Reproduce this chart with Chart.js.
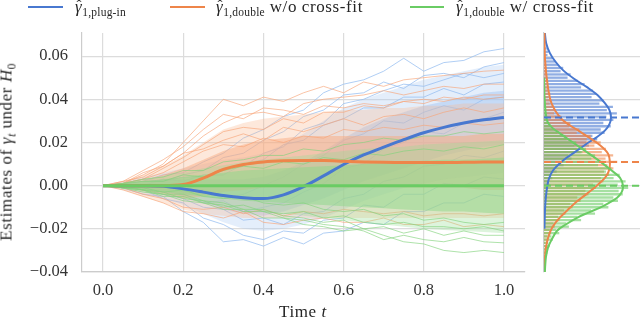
<!DOCTYPE html>
<html>
<head>
<meta charset="utf-8">
<script src="https://cdn.jsdelivr.net/npm/chart.js@4.4.1/dist/chart.umd.min.js"></script>
<style>
  body { margin: 0; background: #fff; }
  #wrap { position: relative; width: 640px; height: 323px; overflow: hidden;
          font-family: "Liberation Serif", serif; color: #262626; }
  #main { position: absolute; left: 0; top: 0; }
  #side { position: absolute; left: 535px; top: 0; }
  .leg-line { position: absolute; top: 6px; height: 2px; width: 35px; }
  .leg-text { position: absolute; top: -3px; font-size: 17px; letter-spacing: 0.6px;
              white-space: nowrap; line-height: 20px; }
  .leg-text sub, .lab sub { font-size: 11.5px; vertical-align: -4px; letter-spacing: 0.2px; }
  .g { position: relative; font-style: italic; }
  .g .hat { position: absolute; left: 1.5px; top: 1px; font-style: normal; font-size: 15px; line-height: 15px; }
  .lab { position: absolute; font-size: 17px; letter-spacing: 0.6px; white-space: nowrap; line-height: 20px; }
  #ylab { left: 9px; top: 152px; transform: translate(-50%, -50%) rotate(-90deg); }
  #xlab { left: 303px; top: 312px; transform: translate(-50%, -50%); }
</style>
</head>
<body>
<div id="wrap">
  <canvas id="main" width="535" height="323"></canvas>
  <canvas id="side" width="105" height="323"></canvas>

  <div class="leg-line" style="left:28px; background:#4878d0"></div>
  <span class="leg-text" style="left:75px"><span class="g">γ<span class="hat">ˆ</span></span><sub>1,plug-in</sub></span>
  <div class="leg-line" style="left:170px; background:#ee854a"></div>
  <span class="leg-text" style="left:216px"><span class="g">γ<span class="hat">ˆ</span></span><sub>1,double</sub> w/o cross-fit</span>
  <div class="leg-line" style="left:410px; width:34px; background:#6acc64"></div>
  <span class="leg-text" style="left:456px"><span class="g">γ<span class="hat">ˆ</span></span><sub>1,double</sub> w/ cross-fit</span>

  <div class="lab" id="ylab">Estimates of <i>γ</i><sub><i>t</i></sub> under <i>H</i><sub>0</sub></div>
  <div class="lab" id="xlab">Time <i>t</i></div>
</div>

<script>
// time grid of the simulated paths
const T = [0, 0.05, 0.1, 0.15, 0.2, 0.25, 0.3, 0.35, 0.4, 0.45, 0.5, 0.55, 0.6, 0.65, 0.7, 0.75, 0.8, 0.85, 0.9, 0.95, 1.0];

// averaged estimates (bold lines)
const plugInMean   = [0, 0, 0, -0.0003, -0.0015, -0.003, -0.0046, -0.0056, -0.006, -0.0043, -0.0005, 0.0045, 0.0098, 0.0142, 0.0178, 0.0213, 0.0245, 0.027, 0.029, 0.0305, 0.0316];
const doubleMean   = [0, 0, 0, 0, 0.0005, 0.0035, 0.0075, 0.0098, 0.011, 0.0115, 0.0116, 0.0116, 0.0113, 0.011, 0.0108, 0.0107, 0.0107, 0.0107, 0.0108, 0.0109, 0.011];
const crossFitMean = [0, 0, 0, 0, 0, 0, 0, 0, 0, 0, 0, 0, 0, 0, 0, 0, 0, 0, 0, 0, 0];

// spread of the individual paths: outer envelope and dense core
const plugInHi     = [0, 0.002, 0.004, 0.006, 0.008, 0.01, 0.012, 0.013, 0.015, 0.019, 0.024, 0.03, 0.036, 0.04, 0.043, 0.046, 0.049, 0.051, 0.053, 0.055, 0.056];
const plugInLo     = [0, -0.002, -0.004, -0.006, -0.009, -0.013, -0.017, -0.02, -0.021, -0.02, -0.018, -0.015, -0.011, -0.007, -0.004, -0.001, 0.001, 0.003, 0.004, 0.005, 0.006];
const plugInCoreHi = [0, 0.001, 0.002, 0.003, 0.003, 0.003, 0.003, 0.003, 0.004, 0.007, 0.011, 0.016, 0.022, 0.027, 0.031, 0.034, 0.037, 0.039, 0.041, 0.043, 0.044];
const plugInCoreLo = [0, -0.001, -0.002, -0.003, -0.005, -0.008, -0.011, -0.013, -0.014, -0.012, -0.009, -0.006, -0.002, 0.002, 0.005, 0.008, 0.011, 0.014, 0.016, 0.018, 0.019];

const doubleHi     = [0, 0.002, 0.005, 0.009, 0.014, 0.02, 0.026, 0.029, 0.031, 0.032, 0.033, 0.034, 0.035, 0.035, 0.036, 0.036, 0.037, 0.037, 0.038, 0.038, 0.038];
const doubleLo     = [0, -0.002, -0.005, -0.008, -0.011, -0.013, -0.014, -0.015, -0.015, -0.015, -0.015, -0.015, -0.015, -0.015, -0.015, -0.015, -0.015, -0.015, -0.015, -0.015, -0.015];
const doubleCoreHi = [0, 0.001, 0.0025, 0.005, 0.008, 0.012, 0.016, 0.019, 0.021, 0.022, 0.023, 0.023, 0.023, 0.023, 0.023, 0.023, 0.023, 0.023, 0.023, 0.024, 0.024];
const doubleCoreLo = [0, -0.001, -0.0025, -0.004, -0.006, -0.005, -0.003, -0.002, -0.001, -0.001, -0.001, -0.001, -0.001, -0.001, -0.001, -0.001, -0.001, -0.001, -0.001, -0.002, -0.002];

const crossFitHi     = [0, 0.0015, 0.003, 0.0045, 0.006, 0.008, 0.0095, 0.011, 0.012, 0.013, 0.014, 0.015, 0.016, 0.017, 0.0175, 0.018, 0.019, 0.0195, 0.02, 0.0205, 0.021];
const crossFitLo     = [0, -0.0015, -0.003, -0.0045, -0.006, -0.008, -0.0095, -0.011, -0.012, -0.013, -0.014, -0.015, -0.016, -0.017, -0.018, -0.019, -0.02, -0.0205, -0.021, -0.0215, -0.022];
const crossFitCoreHi = [0, 0.001, 0.002, 0.003, 0.004, 0.005, 0.006, 0.007, 0.0075, 0.008, 0.0085, 0.009, 0.0095, 0.01, 0.0105, 0.011, 0.0115, 0.012, 0.012, 0.0125, 0.013];
const crossFitCoreLo = [0, -0.001, -0.002, -0.003, -0.004, -0.005, -0.006, -0.007, -0.0075, -0.008, -0.0085, -0.009, -0.0095, -0.01, -0.0105, -0.011, -0.0115, -0.012, -0.012, -0.0125, -0.013];

// individual paths that stand out of the bundle
const plugInPaths = [
  [0, 0.001, 0.002, 0.005, 0.006, 0.011, 0.015, 0.022, 0.026, 0.032, 0.035, 0.043, 0.047, 0.049, 0.053, 0.059, 0.053, 0.057, 0.058, 0.062, 0.0635],
  [0, 0.0005, 0.002, 0.002, 0.005, 0.007, 0.013, 0.015, 0.021, 0.025, 0.032, 0.035, 0.042, 0.043, 0.048, 0.045, 0.051, 0.052, 0.05, 0.055, 0.057],
  [0, -0.001, -0.004, -0.005, -0.012, -0.017, -0.026, -0.025, -0.028, -0.024, -0.027, -0.022, -0.021, -0.017, -0.018, -0.012, -0.012, -0.008, -0.008, -0.004, -0.005],
  [0, -0.001, -0.002, -0.006, -0.008, -0.015, -0.018, -0.023, -0.025, -0.021, -0.022, -0.016, -0.015, -0.009, -0.01, -0.004, -0.004, 0.001, 0, 0.004, 0.003],
  [0, 0.001, 0, 0.003, 0.002, 0.005, 0.005, 0.01, 0.012, 0.019, 0.021, 0.028, 0.031, 0.036, 0.036, 0.041, 0.041, 0.045, 0.042, 0.047, 0.048],
  [0, 0, -0.002, 0, -0.003, -0.002, -0.006, -0.004, 0, 0.004, 0.01, 0.014, 0.021, 0.024, 0.03, 0.029, 0.034, 0.037, 0.035, 0.04, 0.041],
  [0, -0.001, -0.001, -0.004, -0.006, -0.01, -0.011, -0.016, -0.015, -0.018, -0.013, -0.012, -0.006, -0.004, 0.002, 0.004, 0.009, 0.01, 0.014, 0.013, 0.016],
  [0, 0.001, 0.003, 0.002, 0.004, 0.004, 0.008, 0.009, 0.015, 0.018, 0.026, 0.029, 0.038, 0.04, 0.044, 0.047, 0.046, 0.049, 0.052, 0.05, 0.052],
  [0, 0, -0.001, -0.003, -0.004, -0.008, -0.007, -0.012, -0.01, -0.008, -0.003, 0.001, 0.008, 0.01, 0.017, 0.02, 0.025, 0.024, 0.029, 0.031, 0.034]
];
const doublePaths = [
  [0, 0.001, 0.005, 0.01, 0.02, 0.03, 0.04, 0.037, 0.041, 0.039, 0.043, 0.046, 0.043, 0.048, 0.046, 0.049, 0.05, 0.051, 0.052, 0.053, 0.0535],
  [0, 0.002, 0.004, 0.009, 0.015, 0.023, 0.029, 0.033, 0.034, 0.032, 0.038, 0.04, 0.041, 0.042, 0.044, 0.042, 0.044, 0.046, 0.045, 0.047, 0.047],
  [0, 0.001, 0.003, 0.008, 0.013, 0.019, 0.025, 0.027, 0.026, 0.031, 0.029, 0.034, 0.034, 0.037, 0.036, 0.039, 0.038, 0.041, 0.04, 0.042, 0.042],
  [0, -0.002, -0.005, -0.008, -0.012, -0.013, -0.015, -0.012, -0.017, -0.018, -0.016, -0.015, -0.017, -0.017, -0.015, -0.018, -0.018, -0.016, -0.019, -0.018, -0.019],
  [0, 0.001, 0.006, 0.009, 0.015, 0.017, 0.021, 0.024, 0.021, 0.027, 0.025, 0.028, 0.031, 0.028, 0.032, 0.033, 0.031, 0.034, 0.036, 0.034, 0.036],
  [0, 0.002, 0.007, 0.012, 0.018, 0.026, 0.033, 0.031, 0.036, 0.035, 0.033, 0.037, 0.036, 0.038, 0.037, 0.039, 0.04, 0.039, 0.041, 0.04, 0.041],
  [0, -0.001, -0.004, -0.006, -0.01, -0.011, -0.01, -0.013, -0.011, -0.014, -0.012, -0.013, -0.011, -0.012, -0.013, -0.012, -0.014, -0.013, -0.013, -0.014, -0.013],
  [0, 0.001, 0.003, 0.006, 0.011, 0.016, 0.019, 0.018, 0.022, 0.02, 0.023, 0.022, 0.026, 0.025, 0.027, 0.026, 0.028, 0.027, 0.029, 0.028, 0.029]
];
const crossFitPaths = [
  [0, -0.001, -0.003, -0.004, -0.007, -0.008, -0.011, -0.011, -0.015, -0.015, -0.018, -0.019, -0.021, -0.02, -0.023, -0.026, -0.027, -0.03, -0.031, -0.03, -0.031],
  [0, -0.001, -0.002, -0.005, -0.005, -0.008, -0.009, -0.012, -0.012, -0.015, -0.016, -0.018, -0.019, -0.021, -0.025, -0.023, -0.025, -0.026, -0.024, -0.026, -0.0265],
  [0, 0.001, 0.003, 0.004, 0.007, 0.007, 0.011, 0.012, 0.014, 0.014, 0.017, 0.016, 0.019, 0.02, 0.022, 0.021, 0.023, 0.023, 0.025, 0.024, 0.025],
  [0, -0.001, -0.002, -0.004, -0.004, -0.007, -0.008, -0.011, -0.011, -0.014, -0.015, -0.017, -0.016, -0.02, -0.019, -0.022, -0.02, -0.023, -0.021, -0.023, -0.023],
  [0, 0.001, 0.002, 0.002, 0.005, 0.004, 0.007, 0.009, 0.008, 0.011, 0.01, 0.013, 0.012, 0.015, 0.014, 0.016, 0.017, 0.016, 0.018, 0.017, 0.019],
  [0, -0.001, -0.001, -0.003, -0.002, -0.005, -0.006, -0.005, -0.008, -0.009, -0.008, -0.011, -0.012, -0.011, -0.014, -0.013, -0.016, -0.015, -0.017, -0.018, -0.017],
  [0, 0, -0.002, -0.003, -0.006, -0.007, -0.01, -0.009, -0.012, -0.013, -0.012, -0.015, -0.014, -0.017, -0.018, -0.017, -0.019, -0.019, -0.02, -0.019, -0.021]
];

// histogram of the final estimates, bins from 0.0695 down in steps of 0.0015
const BIN_TOP = 0.0695, BIN_W = 0.0015;
const plugInHist = [
  0, 0, 0.6, 0, 1.2, 2.0, 1.6, 3.8, 5.0, 6.4,
  8.8, 7.6, 12.2, 10.8, 15.6, 18.6, 17.0, 22.4, 24.0, 21.8,
  27.2, 25.4, 31.6, 28.8, 33.4, 28.6, 31.8, 27.2, 30.6, 26.0,
  27.8, 22.2, 24.4, 19.4, 20.6, 15.0, 16.8, 11.0, 12.6, 7.4,
  9.0, 4.6, 5.8, 3.0, 3.8, 1.8, 2.4, 1.0, 1.4, 0.5,
  0.9, 0.3, 0.4, 0, 0.2, 0, 0, 0, 0, 0,
  0, 0, 0, 0, 0, 0, 0, 0, 0, 0,
  0, 0, 0
];
const doubleHist = [
  0, 0, 0, 0, 0, 0, 0, 0.4, 0, 0.6,
  0.5, 0.9, 1.3, 0.8, 1.8, 1.2, 2.2, 1.7, 2.9, 2.1,
  3.3, 2.6, 3.9, 5.2, 4.6, 7.9, 8.4, 12.1, 11.5, 16.2,
  15.0, 21.4, 19.6, 26.0, 23.1, 28.4, 26.5, 31.7, 28.2, 33.6,
  29.1, 31.8, 27.5, 29.9, 26.1, 27.2, 22.5, 23.8, 19.0, 20.4,
  15.3, 16.8, 12.0, 13.1, 9.2, 9.8, 6.4, 7.1, 4.3, 4.9,
  2.6, 3.1, 1.4, 2.0, 0.7, 1.1, 0.4, 0.6, 0, 0.3,
  0, 0, 0
];
const crossFitHist = [
  0, 0, 0, 0, 0, 0, 0, 0, 0, 0,
  0, 0, 0, 0, 0, 0, 0, 0, 0.3, 0,
  0.4, 0, 0.6, 0.9, 0.5, 1.3, 0.8, 2.1, 3.4, 4.8,
  6.1, 9.9, 10.4, 14.8, 13.9, 19.2, 17.6, 23.4, 21.7, 27.2,
  24.8, 30.9, 28.4, 34.7, 31.9, 37.4, 33.8, 38.6, 34.2, 36.1,
  31.8, 33.9, 27.2, 29.5, 21.6, 23.4, 15.3, 17.0, 10.2, 11.4,
  5.6, 7.0, 3.4, 4.1, 2.0, 2.6, 1.2, 1.6, 0.6, 0.9,
  0.3, 0.5, 0
];

// density curves of the final estimates: value levels and densities
const plugInKdeY = [0.0707, 0.066, 0.0614, 0.0575, 0.0535, 0.0495, 0.0456, 0.042, 0.0381, 0.035, 0.0316, 0.0285, 0.0256, 0.0225, 0.0195, 0.016, 0.013, 0.01, 0.007, 0.003, -0.0009, -0.005, -0.0102, -0.02];
const plugInKdeD = [0.4, 1.0, 2.7, 5.2, 8.7, 13.8, 19.7, 24.5, 28.0, 30.0, 30.7, 30.0, 28.0, 24.3, 19.7, 14.8, 10.5, 6.9, 4.1, 2.2, 1.4, 0.9, 0.5, 0.2];
const doubleKdeY = [0.0707, 0.058, 0.0456, 0.038, 0.0316, 0.0285, 0.0256, 0.0225, 0.0195, 0.0149, 0.0102, 0.0065, 0.0037, 0, -0.0037, -0.0075, -0.0116, -0.0155, -0.0195, -0.024, -0.0288, -0.034, -0.04];
const doubleKdeD = [0.2, 0.5, 1.8, 3.5, 7.3, 11.0, 15.6, 20.3, 24.7, 29.3, 30.2, 29.6, 28.0, 24.2, 19.7, 14.9, 10.5, 6.6, 3.7, 1.9, 0.9, 0.4, 0.2];
const crossFitKdeY = [0.05, 0.04, 0.03, 0.027, 0.0242, 0.021, 0.0177, 0.014, 0.0102, 0.007, 0.0037, 0, -0.003, -0.0056, -0.008, -0.0102, -0.0125, -0.0149, -0.018, -0.0209, -0.025, -0.0288, -0.033, -0.038, -0.04];
const crossFitKdeD = [0.05, 0.3, 1.4, 3.6, 7.3, 11.8, 16.5, 21.8, 27.0, 31.0, 34.8, 36.2, 35.6, 33.5, 29.8, 25.7, 20.3, 15.1, 10.0, 6.0, 3.5, 1.8, 0.9, 0.5, 0.4];

const xTicks = [0, 0.2, 0.4, 0.6, 0.8, 1.0];
const yTicks = [-0.04, -0.02, 0, 0.02, 0.04, 0.06];

const BLUE = '#4878d0', ORANGE = '#ee854a', GREEN = '#6acc64';
const GRID = '#dcdcdc';
const Y_MIN = -0.04, Y_MAX = 0.0707;
const SIDE_MAX = 44;
const FONT = { family: 'Liberation Serif', size: 16.5 };

const series = [
  { mean: plugInMean, hi: plugInHi, lo: plugInLo, coreHi: plugInCoreHi, coreLo: plugInCoreLo, paths: plugInPaths,
    color: BLUE, band: 'rgba(170,202,243,0.32)', core: 'rgba(160,196,242,0.45)', thin: 'rgba(150,190,240,0.75)',
    hist: plugInHist, kdeY: plugInKdeY, kdeD: plugInKdeD, bar: 'rgba(72,120,208,0.6)' },
  { mean: doubleMean, hi: doubleHi, lo: doubleLo, coreHi: doubleCoreHi, coreLo: doubleCoreLo, paths: doublePaths,
    color: ORANGE, band: 'rgba(250,182,142,0.32)', core: 'rgba(249,170,126,0.48)', thin: 'rgba(248,165,120,0.65)',
    hist: doubleHist, kdeY: doubleKdeY, kdeD: doubleKdeD, bar: 'rgba(238,133,74,0.6)' },
  { mean: crossFitMean, hi: crossFitHi, lo: crossFitLo, coreHi: crossFitCoreHi, coreLo: crossFitCoreLo, paths: crossFitPaths,
    color: GREEN, band: 'rgba(150,220,145,0.32)', core: 'rgba(140,215,135,0.5)', thin: 'rgba(130,210,125,0.65)',
    hist: crossFitHist, kdeY: crossFitKdeY, kdeD: crossFitKdeD, bar: 'rgba(106,204,100,0.6)' }
];

const onTime = ys => T.map((t, i) => ({ x: t, y: ys[i] }));
const fmtY = v => Math.abs(v) < 1e-9 ? '0.00' : (v < 0 ? '\u2212' : '') + Math.abs(v).toFixed(2);

// ---- main panel ----
const mainSets = [];
series.forEach((s, k) => {
  const base = 30 - k * 10;   // later series sit above earlier ones
  const plain = { pointRadius: 0, tension: 0, borderWidth: 1 };
  mainSets.push({ ...plain, data: onTime(s.lo), borderColor: 'transparent', fill: false, order: base + 9 });
  mainSets.push({ ...plain, data: onTime(s.hi), borderColor: 'transparent', backgroundColor: s.band,
                  fill: mainSets.length - 1, order: base + 8 });
  mainSets.push({ ...plain, data: onTime(s.coreLo), borderColor: 'transparent', fill: false, order: base + 7 });
  mainSets.push({ ...plain, data: onTime(s.coreHi), borderColor: 'transparent', backgroundColor: s.core,
                  fill: mainSets.length - 1, order: base + 6 });
  s.paths.forEach(p => {
    mainSets.push({ ...plain, data: onTime(p), borderColor: s.thin, fill: false, order: base + 5 });
  });
});
series.forEach((s, k) => {
  mainSets.push({ data: onTime(s.mean), borderColor: s.color, borderWidth: 3, pointRadius: 0,
                  cubicInterpolationMode: 'monotone', fill: false, order: 2 - k });
});

new Chart(document.getElementById('main'), {
  type: 'line',
  data: { datasets: mainSets },
  options: {
    responsive: false,
    animation: false,
    layout: { padding: { top: 33, right: 10, left: 0, bottom: 0 } },
    plugins: { legend: { display: false }, tooltip: { enabled: false } },
    scales: {
      x: {
        type: 'linear', min: -0.0525, max: 1.0525,
        afterFit: s => { s.height = 51; },
        afterBuildTicks: s => { s.ticks = xTicks.map(v => ({ value: v })); },
        ticks: { font: FONT, color: '#333', padding: 9, callback: v => v.toFixed(1) },
        grid: { color: GRID, lineWidth: 1.2, drawTicks: false },
        border: { display: true, color: '#cccccc', width: 1.2 }
      },
      y: {
        type: 'linear', min: Y_MIN, max: Y_MAX,
        afterFit: s => { s.width = 82; },
        afterBuildTicks: s => { s.ticks = yTicks.map(v => ({ value: v })); },
        ticks: { font: FONT, color: '#333', padding: 14, callback: fmtY },
        grid: { color: GRID, lineWidth: 1.2, drawTicks: false },
        border: { display: true, color: '#cccccc', width: 1.2 }
      }
    }
  }
});

// ---- side panel: distribution of the final estimates ----
const binCenter = i => BIN_TOP - i * BIN_W;
const sideSets = [];
series.forEach((s, k) => {
  sideSets.push({
    type: 'bar',
    data: s.hist.map((v, i) => ({ x: v, y: binCenter(i) })).filter(p => p.x > 0),
    backgroundColor: s.bar, grouped: false, barPercentage: 0.72, categoryPercentage: 1,
    order: 20 - k
  });
  sideSets.push({
    type: 'line',
    data: s.kdeY.map((y, i) => ({ x: s.kdeD[i], y })),
    borderColor: s.color, borderWidth: 2, pointRadius: 0, tension: 0.35, fill: false,
    order: 10 - k
  });
  const last = s.mean[s.mean.length - 1];
  sideSets.push({
    type: 'line',
    data: [{ x: 0, y: last }, { x: SIDE_MAX, y: last }],
    borderColor: s.color, borderWidth: 2, borderDash: [7, 4], pointRadius: 0, fill: false,
    order: 3 - k
  });
});

new Chart(document.getElementById('side'), {
  type: 'bar',
  data: { datasets: sideSets },
  options: {
    responsive: false,
    animation: false,
    indexAxis: 'y',
    layout: { padding: { top: 33, bottom: 51, left: 0, right: 0 } },
    plugins: { legend: { display: false }, tooltip: { enabled: false } },
    scales: {
      x: { type: 'linear', min: 0, max: SIDE_MAX, display: false },
      y: {
        type: 'linear', min: Y_MIN, max: Y_MAX, offset: false,
        afterFit: s => { s.width = 9; },
        afterBuildTicks: s => { s.ticks = yTicks.filter(v => v > Y_MIN).map(v => ({ value: v })); },
        ticks: { display: false },
        grid: { color: GRID, lineWidth: 1.2, drawTicks: false, offset: false },
        border: { display: true, color: '#cccccc', width: 1.2 }
      }
    }
  }
});
</script>
</body>
</html>
